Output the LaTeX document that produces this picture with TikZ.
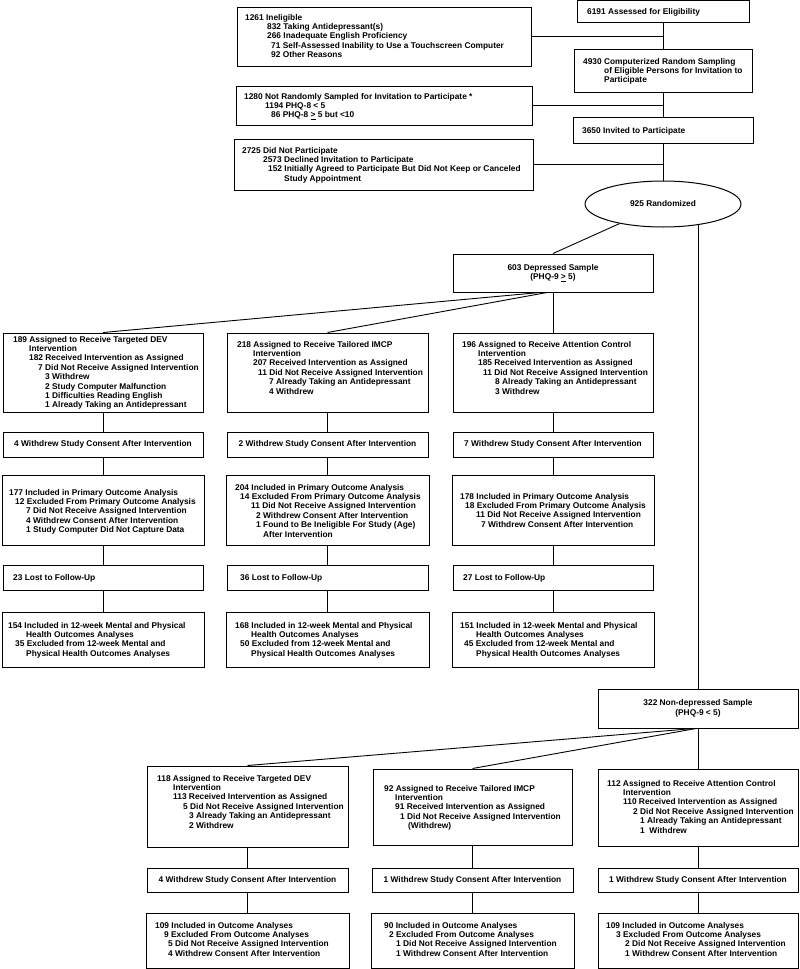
\documentclass[tikz,border=0pt]{standalone}
\usepackage{fontspec}
\setmainfont{Liberation Sans}
\usetikzlibrary{fit,backgrounds,shapes.geometric,calc}
\tikzset{
  box/.style={draw, line width=1pt, inner sep=0pt},
  txt/.style={anchor=north west, inner sep=0pt, align=left, font=\fontsize{8.35}{9.4}\selectfont\bfseries},
  ctxt/.style={inner sep=0pt, align=center, font=\fontsize{8.35}{9.4}\selectfont\bfseries},
  conn/.style={line width=0.9pt},
}
\newcommand{\ind}[1]{\hspace*{#1pt}}
\begin{document}
\begin{tikzpicture}[x=1pt,y=-1pt]
\useasboundingbox (0,0) rectangle (800,969);
% ---------- top part ----------
\node[box, fit={(577,0) (749,22)}] (assess) {};
\node[txt] (assess-t) at (587,7.9) {6191 Assessed for Eligibility};
\node[box, fit={(237,7) (531,66)}] (inel) {};
\node[txt] (inel-t) at (245,13.9) {1261 Ineligible\\\ind{22}832 Taking Antidepressant(s)\\\ind{22}266 Inadequate English Proficiency\\\ind{26}71 Self-Assessed Inability to Use a Touchscreen Computer\\\ind{26}92 Other Reasons};
\node[box, fit={(574,49) (752,92)}] (samp) {};
\node[txt] (samp-t) at (583,57.9) {4930 Computerized Random Sampling\\\ind{21}of Eligible Persons for Invitation to\\\ind{21}Participate};
\node[box, fit={(236,86) (532,125)}] (notsamp) {};
\node[txt] (notsamp-t) at (244,92.9) {1280 Not Randomly Sampled for Invitation to Participate *\\\ind{21}1194 PHQ-8 < 5\\\ind{27}86 PHQ-8 \underline{>} 5 but <10};
\node[box, fit={(573,117) (753,143)}] (invited) {};
\node[txt] (invited-t) at (582,126.9) {3650 Invited to Participate};
\node[box, fit={(234,139) (533,190)}] (notpart) {};
\node[txt] (notpart-t) at (242,146.9) {2725 Did Not Participate\\\ind{21}2573 Declined Invitation to Participate\\\ind{26}152 Initially Agreed to Participate But Did Not Keep or Canceled\\\ind{42}Study Appointment};
\node[draw, ellipse, line width=1pt, fill=white, minimum width=156pt, minimum height=46pt, inner sep=0pt, font=\fontsize{8.35}{9.4}\selectfont\bfseries] (rand) at (663,204) {925 Randomized};
% ---------- depressed sample ----------
\node[box, fit={(453,254) (653,292)}] (dep) {};
\node[ctxt] (dep-t) at (dep.center) {603 Depressed Sample\\(PHQ-9 \underline{>} 5)};
% column 1
\node[box, fit={(3,333) (203,412)}] (d1) {};
\node[txt] (d1-t) at (13,335.9) {189 Assigned to Receive Targeted DEV\\\ind{16}Intervention\\\ind{16}182 Received Intervention as Assigned\\\ind{25}7 Did Not Receive Assigned Intervention\\\ind{32}3 Withdrew\\\ind{32}2 Study Computer Malfunction\\\ind{32}1 Difficulties Reading English\\\ind{32}1 Already Taking an Antidepressant};
\node[box, fit={(3,432) (203,457)}] (w1) {};
\node[ctxt] (w1-t) at (w1.center) {4 Withdrew Study Consent After Intervention};
\node[box, fit={(2,475) (204,545)}] (p1) {};
\node[txt] (p1-t) at (9,488.9) {177 Included in Primary Outcome Analysis\\\ind{6}12 Excluded From Primary Outcome Analysis\\\ind{17}7 Did Not Receive Assigned Intervention\\\ind{17}4 Withdrew Consent After Intervention\\\ind{17}1 Study Computer Did Not Capture Data};
\node[box, fit={(3,565) (203,590)}] (l1) {};
\node[txt] (l1-t) at (13,573.9) {23 Lost to Follow-Up};
\node[box, fit={(2,612) (204,667)}] (o1) {};
\node[txt] (o1-t) at (8,621.9) {154 Included in 12-week Mental and Physical\\\ind{18}Health Outcomes Analyses\\\ind{7}35 Excluded from 12-week Mental and\\\ind{18}Physical Health Outcomes Analyses};
% column 2
\node[box, fit={(227,333) (428,412)}] (d2) {};
\node[txt] (d2-t) at (237,340.9) {218 Assigned to Receive Tailored IMCP\\\ind{16}Intervention\\\ind{16}207 Received Intervention as Assigned\\\ind{21}11 Did Not Receive Assigned Intervention\\\ind{32}7 Already Taking an Antidepressant\\\ind{32}4 Withdrew};
\node[box, fit={(227,432) (428,457)}] (w2) {};
\node[ctxt] (w2-t) at (w2.center) {2 Withdrew Study Consent After Intervention};
\node[box, fit={(226,475) (429,545)}] (p2) {};
\node[txt] (p2-t) at (235,483.9) {204 Included in Primary Outcome Analysis\\\ind{5}14 Excluded From Primary Outcome Analysis\\\ind{16}11 Did Not Receive Assigned Intervention\\\ind{21}2 Withdrew Consent After Intervention\\\ind{21}1 Found to Be Ineligible For Study (Age)\\\ind{28}After Intervention};
\node[box, fit={(227,565) (428,590)}] (l2) {};
\node[txt] (l2-t) at (240,573.9) {36 Lost to Follow-Up};
\node[box, fit={(226,612) (429,667)}] (o2) {};
\node[txt] (o2-t) at (235,621.9) {168 Included in 12-week Mental and Physical\\\ind{16}Health Outcomes Analyses\\\ind{5}50 Excluded from 12-week Mental and\\\ind{16}Physical Health Outcomes Analyses};
% column 3
\node[box, fit={(453,333) (653,412)}] (d3) {};
\node[txt] (d3-t) at (462,340.9) {196 Assigned to Receive Attention Control\\\ind{16}Intervention\\\ind{16}185 Received Intervention as Assigned\\\ind{21}11 Did Not Receive Assigned Intervention\\\ind{33}8 Already Taking an Antidepressant\\\ind{33}3 Withdrew};
\node[box, fit={(453,432) (653,457)}] (w3) {};
\node[ctxt] (w3-t) at (w3.center) {7 Withdrew Study Consent After Intervention};
\node[box, fit={(452,475) (654,545)}] (p3) {};
\node[txt] (p3-t) at (460,492.9) {178 Included in Primary Outcome Analysis\\\ind{5}18 Excluded From Primary Outcome Analysis\\\ind{16}11 Did Not Receive Assigned Intervention\\\ind{21}7 Withdrew Consent After Intervention};
\node[box, fit={(453,565) (653,590)}] (l3) {};
\node[txt] (l3-t) at (463,573.9) {27 Lost to Follow-Up};
\node[box, fit={(452,612) (654,667)}] (o3) {};
\node[txt] (o3-t) at (460,621.9) {151 Included in 12-week Mental and Physical\\\ind{16}Health Outcomes Analyses\\\ind{4}45 Excluded from 12-week Mental and\\\ind{16}Physical Health Outcomes Analyses};
% ---------- non-depressed sample ----------
\node[box, fit={(598,689) (798,728)}] (nondep) {};
\node[ctxt] (nondep-t) at (nondep.center) {322 Non-depressed Sample\\(PHQ-9 < 5)};
\node[box, fit={(147,766) (348,847)}] (n1) {};
\node[txt] (n1-t) at (157,774.9) {118 Assigned to Receive Targeted DEV\\\ind{16}Intervention\\\ind{16}113 Received Intervention as Assigned\\\ind{26}5 Did Not Receive Assigned Intervention\\\ind{32}3 Already Taking an Antidepressant\\\ind{32}2 Withdrew};
\node[box, fit={(147,868) (348,892)}] (nw1) {};
\node[ctxt] (nw1-t) at (nw1.center) {4 Withdrew Study Consent After Intervention};
\node[box, fit={(146,913) (349,968)}] (no1) {};
\node[txt] (no1-t) at (155,921.9) {109 Included in Outcome Analyses\\\ind{9}9 Excluded From Outcome Analyses\\\ind{13}5 Did Not Receive Assigned Intervention\\\ind{13}4 Withdrew Consent After Intervention};
\node[box, fit={(373,769) (572,845)}] (n2) {};
\node[txt] (n2-t) at (384,784.9) {92 Assigned to Receive Tailored IMCP\\\ind{11}Intervention\\\ind{11}91 Received Intervention as Assigned\\\ind{16}1 Did Not Receive Assigned Intervention\\\ind{24}(Withdrew)};
\node[box, fit={(372,868) (573,892)}] (nw2) {};
\node[ctxt] (nw2-t) at (nw2.center) {1 Withdrew Study Consent After Intervention};
\node[box, fit={(371,913) (574,968)}] (no2) {};
\node[txt] (no2-t) at (384,921.9) {90 Included in Outcome Analyses\\\ind{5}2 Excluded From Outcome Analyses\\\ind{12}1 Did Not Receive Assigned Intervention\\\ind{12}1 Withdrew Consent After Intervention};
\node[box, fit={(598,769) (798,846)}] (n3) {};
\node[txt] (n3-t) at (607,779.9) {112 Assigned to Receive Attention Control\\\ind{16}Intervention\\\ind{16}110 Received Intervention as Assigned\\\ind{26}2 Did Not Receive Assigned Intervention\\\ind{33}1 Already Taking an Antidepressant\\\ind{33}1\ \ Withdrew};
\node[box, fit={(598,868) (798,892)}] (nw3) {};
\node[ctxt] (nw3-t) at (nw3.center) {1 Withdrew Study Consent After Intervention};
\node[box, fit={(598,913) (798,968)}] (no3) {};
\node[txt] (no3-t) at (606,921.9) {109 Included in Outcome Analyses\\\ind{10}3 Excluded From Outcome Analyses\\\ind{19}2 Did Not Receive Assigned Intervention\\\ind{19}1 Withdrew Consent After Intervention};
% ---------- connectors ----------
\begin{scope}[on background layer]
  \draw[conn] (invited.south) -- (invited.south |- rand.center);
  \draw[conn] (nondep.north |- rand.center) -- (nondep.north);
\end{scope}
\draw[conn] (assess.south) -- (samp.north);
\draw[conn] (samp.south) -- (invited.north);
\draw[conn] (inel.east) -- (inel.east -| assess.south);
\draw[conn] (notsamp.east) -- (notsamp.east -| assess.south);
\draw[conn] (notpart.east) -- (notpart.east -| assess.south);
\draw[conn] (rand) -- (dep.north);
\draw[conn] ($(dep.south)+(-13,0)$) -- (d1.north);
\draw[conn] ($(dep.south)+(-6,0)$) -- (d2.north);
\draw[conn] (dep.south) -- (d3.north);
\foreach \c in {1,2,3}{
  \draw[conn] (d\c.south) -- (w\c.north);
  \draw[conn] (w\c.south) -- (p\c.north);
  \draw[conn] (p\c.south) -- (l\c.north);
  \draw[conn] (l\c.south) -- (o\c.north);
  \draw[conn] (n\c.south) -- (nw\c.north);
  \draw[conn] (nw\c.south) -- (no\c.north);
}
\draw[conn] ($(nondep.south)+(-4,0)$) -- (n1.north);
\draw[conn] ($(nondep.south)+(-2,0)$) -- (n2.north);
\draw[conn] (nondep.south) -- (n3.north);
\end{tikzpicture}
\end{document}
